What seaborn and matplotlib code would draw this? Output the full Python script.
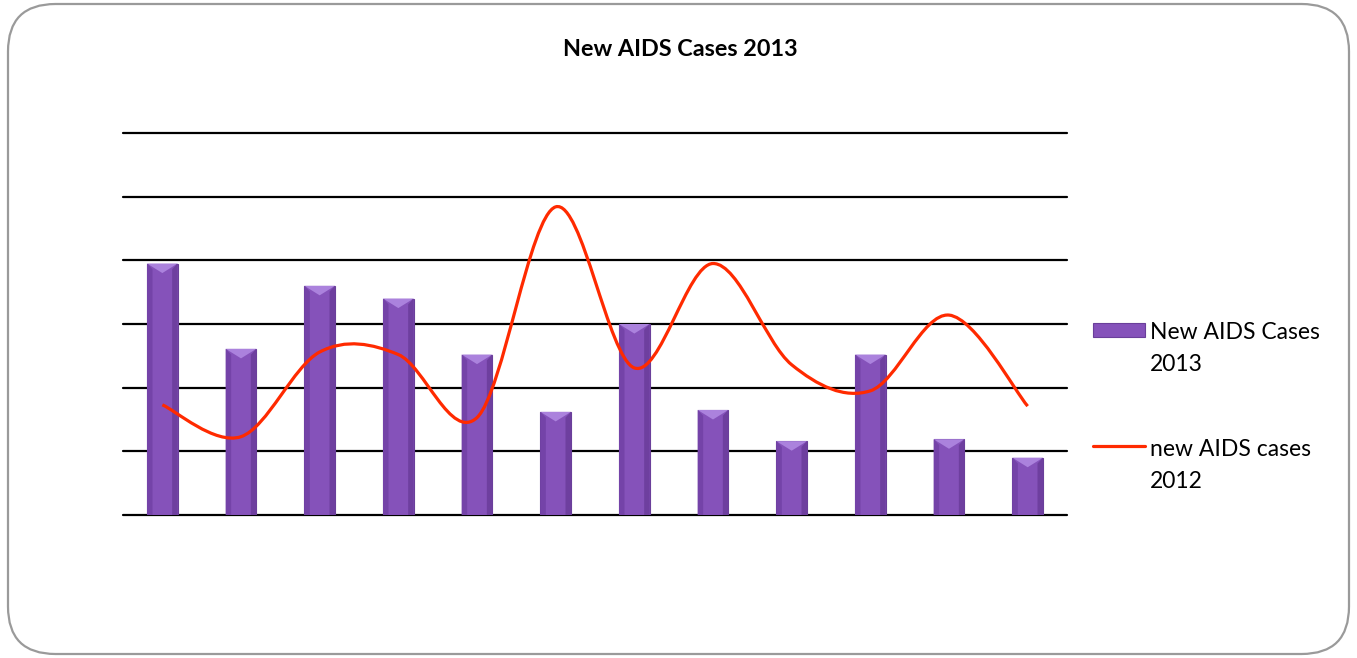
import numpy as np
import pandas as pd
import matplotlib
matplotlib.use("Agg")
import matplotlib.pyplot as plt
import seaborn as sns
from matplotlib.path import Path
from matplotlib.patches import PathPatch, FancyBboxPatch, Polygon, Rectangle
from matplotlib.lines import Line2D

# values (no axis labels in the original, gridline step = 1)
months = [str(i) for i in range(1, 13)]
cases_2013 = [3.95, 2.61, 3.60, 3.40, 2.52, 1.62, 3.00, 1.65, 1.16, 2.52, 1.19, 0.90]
cases_2012 = [1.73, 1.23, 2.56, 2.52, 1.53, 4.84, 2.31, 3.95, 2.36, 1.95, 3.14, 1.71]
series_labels = ["New AIDS Cases\n2013", "new AIDS cases\n2012"]

df = pd.DataFrame({"month": months, "y2013": cases_2013, "y2012": cases_2012})

sns.set_theme(style="white")
plt.rcParams["font.family"] = ["Lato", "DejaVu Sans"]

W, H = 1357, 658
fig = plt.figure(figsize=(W / 100, H / 100), dpi=100)
ax = fig.add_axes([123 / W, 1 - 515 / H, 944 / W, 382 / H])

# rounded grey frame around the whole chart
frame = FancyBboxPatch((8 / W, 4 / H), 1341 / W, 650 / H,
                       boxstyle="round,pad=0,rounding_size=0.035",
                       transform=fig.transFigure, fill=False,
                       edgecolor="#9a9a9a", linewidth=1.6, mutation_aspect=W / H)
fig.patches.append(frame)

purple = "#8552BA"
red = "#ff2a00"
sns.barplot(data=df, x="month", y="y2013", color=purple, width=0.39,
            saturation=1, edgecolor="#6a3f9a", linewidth=0.8, ax=ax, zorder=3)

# bevel on top of each bar
for p in ax.patches:
    x0, w, h = p.get_x(), p.get_width(), p.get_height()
    bev = 0.15
    top = Polygon([[x0, h], [x0 + w, h], [x0 + w / 2, h - bev]],
                  closed=True, facecolor="#ab82dd", edgecolor="none", zorder=4)
    ax.add_patch(top)
    left = Polygon([[x0, h], [x0 + 0.07, h - bev * 0.6], [x0 + 0.07, 0], [x0, 0]],
                   closed=True, facecolor="#7443a8", edgecolor="none", zorder=4)
    ax.add_patch(left)
    right = Polygon([[x0 + w, h], [x0 + w - 0.07, h - bev * 0.6], [x0 + w - 0.07, 0], [x0 + w, 0]],
                    closed=True, facecolor="#6e3f9f", edgecolor="none", zorder=4)
    ax.add_patch(right)

# smoothed line (Excel-style bezier smoothing)
xs = np.arange(len(cases_2012), dtype=float)
ys = np.array(cases_2012)
pts = np.column_stack([xs, ys])
verts = [pts[0]]
codes = [Path.MOVETO]
for i in range(len(pts) - 1):
    p0 = pts[i - 1] if i > 0 else pts[i]
    p1, p2 = pts[i], pts[i + 1]
    p3 = pts[i + 2] if i + 2 < len(pts) else pts[i + 1]
    c1 = p1 + (p2 - p0) / 6
    c2 = p2 - (p3 - p1) / 6
    verts += [c1, c2, p2]
    codes += [Path.CURVE4] * 3
ax.add_patch(PathPatch(Path(verts, codes), fill=False, edgecolor=red,
                       linewidth=2.3, zorder=5, capstyle="butt"))

for g in range(0, 7):
    ax.axhline(g, color="black", linewidth=1.6, zorder=1, clip_on=False)

ax.set_ylim(0, 6)
ax.set_xlim(-0.5, 11.5)
ax.set_xticks([])
ax.set_yticks([])
ax.set_xlabel("")
ax.set_ylabel("")
for s in ax.spines.values():
    s.set_visible(False)

fig.text(680 / W, 1 - 49 / H, "New AIDS Cases 2013", ha="center", va="center",
         fontsize=16.8, fontweight="bold", color="black")

# legend on the right, handles next to the first line of each label
fig.patches.append(Rectangle((1093 / W, 1 - 337 / H), 52 / W, 14 / H,
                             transform=fig.transFigure, facecolor=purple,
                             edgecolor="#6a3f9a", linewidth=0.8))
fig.lines.append(Line2D([1093 / W, 1145 / W], [1 - 446 / H, 1 - 446 / H],
                        transform=fig.transFigure, color=red, linewidth=2.3))
for lab, ytop in zip(series_labels, [322, 439]):
    fig.text(1150 / W, 1 - ytop / H, lab, ha="left", va="top", fontsize=16.5,
             color="black", linespacing=1.62)

fig.savefig("out.png", dpi=100, facecolor="white")
